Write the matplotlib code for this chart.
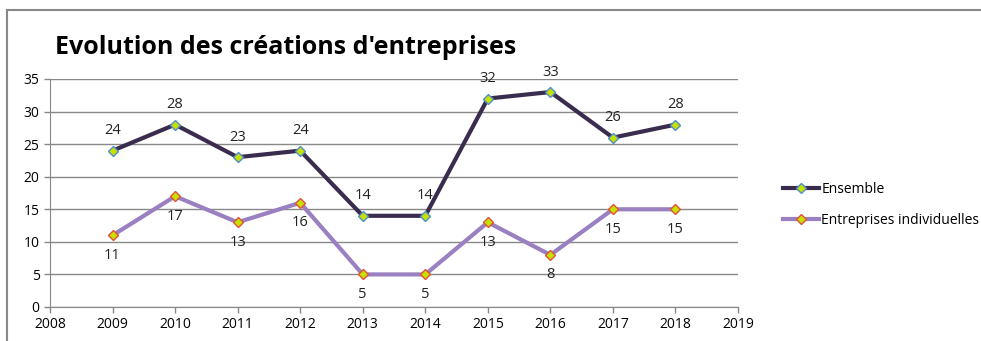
import matplotlib.pyplot as plt
from matplotlib.lines import Line2D

years = [2009, 2010, 2011, 2012, 2013, 2014, 2015, 2016, 2017, 2018]
ensemble = [24, 28, 23, 24, 14, 14, 32, 33, 26, 28]
individuelles = [11, 17, 13, 16, 5, 5, 13, 8, 15, 15]

plt.rcParams['font.family'] = ['Open Sans', 'DejaVu Sans']

fig = plt.figure(figsize=(9.81, 3.41), dpi=100)
ax = fig.add_axes([50/981, 1 - 307/341, 688/981, 228/341])

c1 = '#3a2c4e'
c2 = '#9a80c0'
ax.plot(years, ensemble, color=c1, lw=3, marker='D', ms=5,
        mfc='#c6e000', mec='#4f8fd0', mew=1, label='Ensemble', zorder=3)
ax.plot(years, individuelles, color=c2, lw=3, marker='D', ms=5,
        mfc='#c6e000', mec='#e0503a', mew=1, label='Entreprises individuelles', zorder=3)

for x, y in zip(years, ensemble):
    ax.annotate(str(y), (x, y), xytext=(0, 9), textcoords='offset points',
                ha='center', va='bottom', fontsize=10.5, color='#222222')
for x, y in zip(years, individuelles):
    ax.annotate(str(y), (x, y), xytext=(0, -9), textcoords='offset points',
                ha='center', va='top', fontsize=10.5, color='#222222')

ax.set_xlim(2008, 2019)
ax.set_ylim(0, 35)
ax.set_xticks(range(2008, 2020))
ax.set_yticks(range(0, 36, 5))
ax.tick_params(labelsize=10, color='#888888', length=4, width=1)
ax.grid(axis='y', color='#888888', lw=1)
ax.set_axisbelow(True)
for s in ['top', 'right']:
    ax.spines[s].set_visible(False)
for s in ['left', 'bottom']:
    ax.spines[s].set_color('#888888')

fig.text(55/981, 1 - 47/341, "Evolution des créations d'entreprises",
         fontsize=18, fontweight='bold', va='center', ha='left')

handles = [Line2D([], [], color=c1, lw=3, marker='D', ms=5, mfc='#c6e000', mec='#4f8fd0'),
           Line2D([], [], color=c2, lw=3, marker='D', ms=5, mfc='#c6e000', mec='#e0503a')]
fig.legend(handles, ['Ensemble', 'Entreprises individuelles'], loc='center left',
           bbox_to_anchor=(770/981, 1 - 205/341), frameon=False, fontsize=10,
           handlelength=2.6, handletextpad=0.2, labelspacing=1.2)

# outer chart frame
fig.add_artist(Line2D([7/981, 1], [1 - 10/341, 1 - 10/341], color='#888888', lw=1.5))
fig.add_artist(Line2D([7/981, 7/981], [0, 1 - 10/341], color='#888888', lw=1.5))

fig.savefig('out.png', dpi=100)
